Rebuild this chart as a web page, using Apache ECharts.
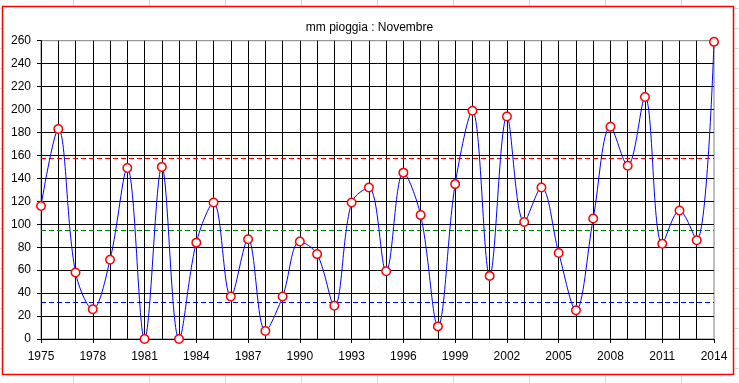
<!DOCTYPE html>
<html>
<head>
<meta charset="utf-8">
<script src="https://cdn.jsdelivr.net/npm/echarts@6/dist/echarts.min.js"></script>
<style>
html,body{margin:0;padding:0;background:#fff;}
#chart{width:739px;height:383px;}
</style>
</head>
<body>
<div id="chart"></div>
<script>
// ---- data ----
var titleText = 'mm pioggia : Novembre';
var years = ['1975','1976','1977','1978','1979','1980','1981','1982','1983','1984',
             '1985','1986','1987','1988','1989','1990','1991','1992','1993','1994',
             '1995','1996','1997','1998','1999','2000','2001','2002','2003','2004',
             '2005','2006','2007','2008','2009','2010','2011','2012','2013','2014'];
var rain = [116, 183, 58, 26, 69, 149, 0, 150, 0, 84,
            119, 37, 87, 7, 37, 85, 74, 29, 119, 132,
            59, 145, 108, 11, 135, 199, 55, 194, 102, 132,
            75, 25, 105, 185, 151, 211, 83, 112, 86, 259];
var upperLine = 157.5;   // red
var meanLine = 94.5;     // green
var lowerLine = 32;      // blue
var yTicks = [0, 260, 20]; // min, max, step

var font = '"Liberation Sans", Arial, sans-serif';

// sheet gridlines outside the chart (decoration)
var deco = [];
for (var gx = 73; gx < 739; gx += 76) {
  deco.push({type:'line', shape:{x1:gx+0.5,y1:0,x2:gx+0.5,y2:6}, style:{stroke:'#d6d6d6',lineWidth:1}, silent:true});
  deco.push({type:'line', shape:{x1:gx+0.5,y1:376,x2:gx+0.5,y2:383}, style:{stroke:'#d6d6d6',lineWidth:1}, silent:true});
}
for (var gy = 8; gy < 383; gy += 20) {
  deco.push({type:'line', shape:{x1:0,y1:gy+0.5,x2:1.5,y2:gy+0.5}, style:{stroke:'#d6d6d6',lineWidth:1}, silent:true});
  deco.push({type:'line', shape:{x1:734.5,y1:gy+0.5,x2:739,y2:gy+0.5}, style:{stroke:'#d6d6d6',lineWidth:1}, silent:true});
}
deco.push({type:'rect', shape:{x:2.5,y:6.5,width:731,height:368}, style:{fill:null,stroke:'#ff0000',lineWidth:1.5}, silent:true, z:10});

var chart = echarts.init(document.getElementById('chart'), null, {renderer:'canvas'});
chart.setOption({
  animation: false,
  backgroundColor: '#ffffff',
  title: {
    text: titleText,
    left: 'center',
    top: 17,
    textStyle: {fontFamily: font, fontSize: 12, fontWeight: 'normal', color: '#000'}
  },
  graphic: deco,
  grid: {
    left: 41, right: 25, top: 40.7, bottom: 44,
    show: true, borderColor: '#808080', borderWidth: 1,
    containLabel: false
  },
  xAxis: {
    type: 'category',
    data: years,
    boundaryGap: false,
    axisLine: {show: true, lineStyle: {color: '#000', width: 1}},
    axisTick: {show: true, interval: 2, length: 4, lineStyle: {color: '#000'}},
    axisLabel: {interval: 2, margin: 12, fontFamily: font, fontSize: 12, color: '#000'},
    splitLine: {show: true, interval: 0, showMinLine: false, showMaxLine: false, lineStyle: {color: '#000', width: 1}}
  },
  yAxis: {
    type: 'value',
    min: yTicks[0], max: yTicks[1], interval: yTicks[2],
    axisLine: {show: true, lineStyle: {color: '#000', width: 1}},
    axisTick: {show: true, length: 4, lineStyle: {color: '#000'}},
    axisLabel: {margin: 10, fontFamily: font, fontSize: 12, color: '#000'},
    splitLine: {show: true, showMinLine: false, showMaxLine: false, lineStyle: {color: '#000', width: 1}}
  },
  series: [{
    type: 'line',
    data: rain,
    smooth: 0.35,
    lineStyle: {color: '#0000ff', width: 1},
    symbol: 'circle',
    symbolSize: 8.5,
    itemStyle: {color: '#ffffff', borderColor: '#ff0000', borderWidth: 1.5},
    z: 5,
    markLine: {
      silent: true,
      symbol: ['none','none'],
      label: {show: false},
      z: 3,
      data: [
        {yAxis: upperLine, lineStyle: {color: '#ff0000', width: 1, type: [5,3]}},
        {yAxis: meanLine, lineStyle: {color: '#008000', width: 1, type: [5,3]}},
        {yAxis: lowerLine, lineStyle: {color: '#0000ff', width: 1, type: [5,3]}}
      ]
    }
  }]
});
</script>
</body>
</html>
